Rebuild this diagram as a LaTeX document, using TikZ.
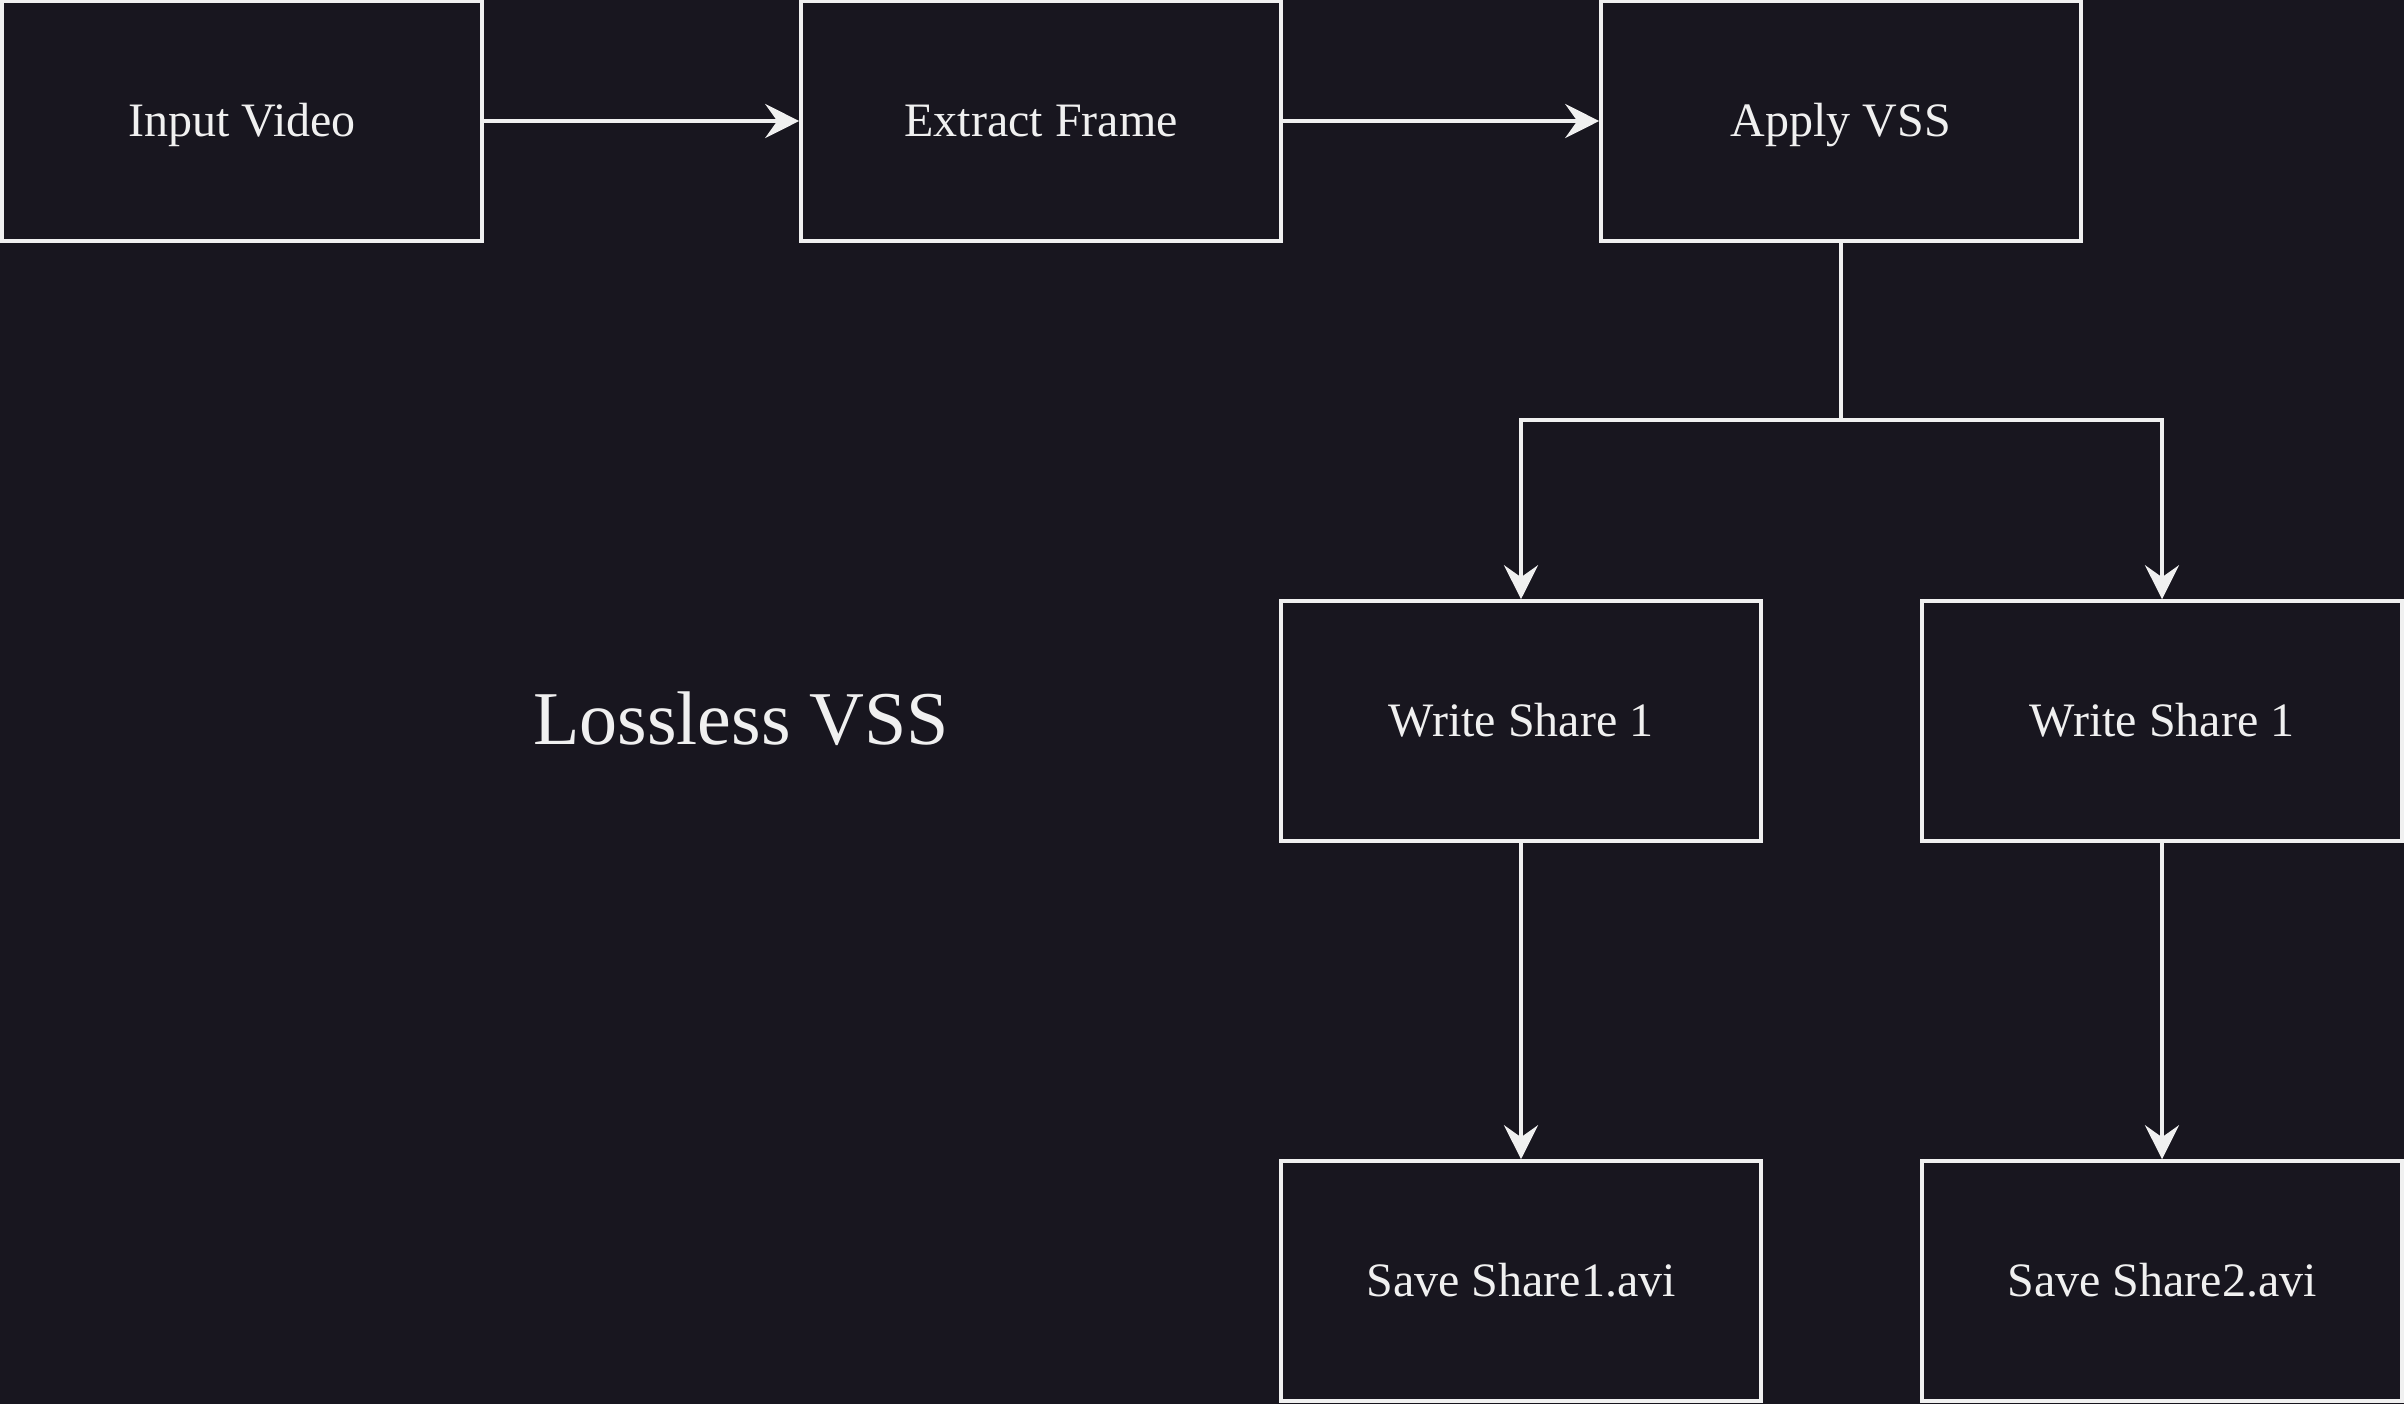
\documentclass[tikz,border=0pt]{standalone}
\usepackage{fontspec}
\setmainfont{Liberation Serif}
\usepackage{tikz}
\usetikzlibrary{arrows.meta,backgrounds}
\definecolor{bgdark}{HTML}{18161F}
\definecolor{linelight}{HTML}{F0F0F0}
\tikzset{
  stepbox/.style={draw=linelight, line width=1.8pt, fill=bgdark, text=linelight,
    minimum width=240pt, minimum height=120pt, inner sep=0pt,
    text height=17pt, text depth=2pt,
    font=\fontsize{24}{28}\selectfont},
  flow/.style={draw=linelight, line width=1.8pt,
    -{Stealth[length=17pt, width=17pt, inset=6pt]}}
}
\begin{document}
\begin{tikzpicture}[x=0.5pt,y=-0.5pt]
\fill[bgdark] (0,0) rectangle (2404,1404);
\useasboundingbox (0,0) rectangle (2404,1404);
% top row
\node[stepbox] (input) at (242,121) {Input Video};
\node[stepbox] (extract) at (1041,121) {Extract Frame};
\node[stepbox] (apply) at (1841,121) {Apply VSS};
% shares
\node[stepbox] (writeA) at (1521,721) {Write Share 1};
\node[stepbox] (writeB) at (2162,721) {Write Share 1};
\node[stepbox] (saveA) at (1521,1281) {Save Share1.avi};
\node[stepbox] (saveB) at (2162,1281) {Save Share2.avi};
% title
\node[text=linelight, font=\fontsize{38}{44}\selectfont] (title) at (741,719) {Lossless VSS};
\coordinate (fork) at (1841,420);
\draw[flow] (input) -- (extract);
\draw[flow] (extract) -- (apply);
\draw[draw=linelight, line width=1.8pt] (apply) -- (fork);
\draw[flow] (fork) -| (writeA);
\draw[flow] (fork) -| (writeB);
\draw[flow] (writeA) -- (saveA);
\draw[flow] (writeB) -- (saveB);
\end{tikzpicture}
\end{document}
